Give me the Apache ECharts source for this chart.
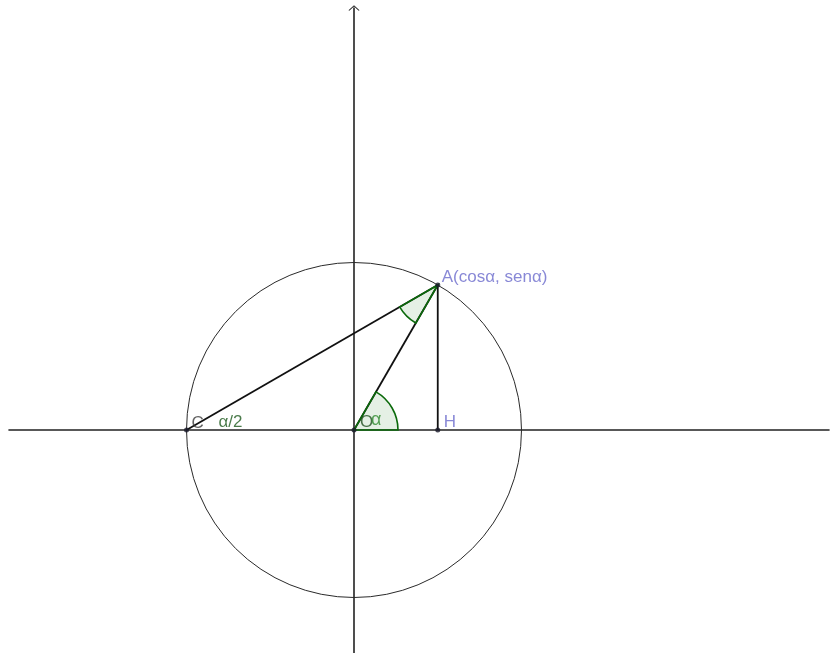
<!DOCTYPE html>
<html>
<head>
<meta charset="utf-8">
<script src="https://cdn.jsdelivr.net/npm/echarts@6/dist/echarts.min.js"></script>
<style>
html,body{margin:0;padding:0;background:#fff;}
#chart{width:830px;height:653px;}
</style>
</head>
<body>
<div id="chart"></div>
<script>
// ---- data ----
const pointNames  = ['C', 'O', 'A', 'H'];
const pointX      = [-1, 0, 0.5, 0.5];
const pointY      = [0, 0, 0.866, 0];
const pointLabels = ['C', 'O', 'A(cosα, senα)', 'H'];

const segments = [['C', 'A'], ['O', 'A'], ['A', 'H']];

const circleCenter = [0, 0];
const circleRadius = [1];

const angleVertex = ['O', 'A'];
const angleStart  = [0, 210];
const angleEnd    = [60, 240];

const angleLabelVertex = ['C', 'O'];
const angleLabelText   = ['α/2', 'α'];

// ---- helpers ----
function pt(name) {
  const i = pointNames.indexOf(name);
  return [pointX[i], pointY[i]];
}

const FONT = 'Liberation Sans, Arial, sans-serif';
const pointLabelStyle = {
  C: { color: '#3a3a3a', offset: [5, -7], size: 17 },
  O: { color: '#1f4f1f', offset: [6, -8], size: 17 },
  A: { color: '#6a6acc', offset: [4, -8], size: 17 },
  H: { color: '#6a6acc', offset: [6, -8], size: 17 }
};
const angleLabelStyle = {
  'α/2': { color: '#1e5a1e', offset: [32, -8], size: 17 },
  'α': { color: '#2e8b2e', offset: [17, -10], size: 18 }
};

const series = [];

// circle
series.push({
  type: 'custom',
  z: 1,
  silent: true,
  data: [[circleCenter[0], circleCenter[1], circleRadius[0]]],
  renderItem: function (params, api) {
    const c = api.coord([api.value(0), api.value(1)]);
    const r = api.size([api.value(2), 0])[0];
    return {
      type: 'circle',
      shape: { cx: c[0], cy: c[1], r: r },
      style: { fill: 'none', stroke: '#2a2a2a', lineWidth: 1 }
    };
  }
});

// segments
segments.forEach(function (s) {
  series.push({
    type: 'line',
    z: 3,
    silent: true,
    symbol: 'none',
    lineStyle: { color: '#111111', width: 1.8 },
    data: [pt(s[0]), pt(s[1])]
  });
});

// angle sectors
series.push({
  type: 'custom',
  z: 4,
  silent: true,
  data: angleVertex.map(function (v, i) {
    const p = pt(v);
    return [p[0], p[1], angleStart[i], angleEnd[i]];
  }),
  renderItem: function (params, api) {
    const c = api.coord([api.value(0), api.value(1)]);
    const a0 = api.value(2) * Math.PI / 180;
    const a1 = api.value(3) * Math.PI / 180;
    return {
      type: 'sector',
      shape: { cx: c[0], cy: c[1], r0: 0, r: 44, startAngle: -a1, endAngle: -a0, clockwise: true },
      style: { fill: 'rgba(0,110,0,0.10)', stroke: '#0b6a0b', lineWidth: 1.6 }
    };
  }
});

// points with labels
series.push({
  type: 'scatter',
  z: 6,
  silent: true,
  symbolSize: 5,
  itemStyle: { color: '#1a1a2a' },
  data: pointNames.map(function (n, i) {
    const st = pointLabelStyle[n];
    return {
      value: [pointX[i], pointY[i]],
      label: {
        show: true,
        formatter: pointLabels[i],
        position: 'inside',
        align: 'left',
        verticalAlign: 'middle',
        offset: st.offset,
        color: st.color,
        fontSize: st.size,
        fontFamily: FONT
      }
    };
  })
});

// angle labels
series.push({
  type: 'scatter',
  z: 7,
  silent: true,
  symbolSize: 0,
  data: angleLabelVertex.map(function (v, i) {
    const st = angleLabelStyle[angleLabelText[i]];
    return {
      value: pt(v),
      label: {
        show: true,
        formatter: angleLabelText[i],
        position: 'inside',
        align: 'left',
        verticalAlign: 'middle',
        offset: st.offset,
        color: st.color,
        fontSize: st.size,
        fontFamily: FONT
      }
    };
  })
});

const chevron = 'path://M0,9 L10,0 L20,9 L18.6,10 L10,2.4 L1.4,10 Z';

const option = {
  animation: false,
  backgroundColor: '#ffffff',
  grid: { left: 9, right: 1, top: 8, bottom: 0 },
  xAxis: {
    type: 'value',
    min: -2.0597,
    max: 2.8358,
    axisLine: { show: true, onZero: true, lineStyle: { color: '#222222', width: 1.6 } },
    axisTick: { show: false },
    axisLabel: { show: false },
    splitLine: { show: false }
  },
  yAxis: {
    type: 'value',
    min: -1.3313,
    max: 2.5194,
    axisLine: {
      show: true, onZero: true,
      symbol: ['none', chevron],
      symbolSize: [11, 7],
      lineStyle: { color: '#222222', width: 1.6 }
    },
    axisTick: { show: false },
    axisLabel: { show: false },
    splitLine: { show: false }
  },
  series: series
};

const chart = echarts.init(document.getElementById('chart'), null, { renderer: 'canvas' });
chart.setOption(option);
</script>
</body>
</html>
